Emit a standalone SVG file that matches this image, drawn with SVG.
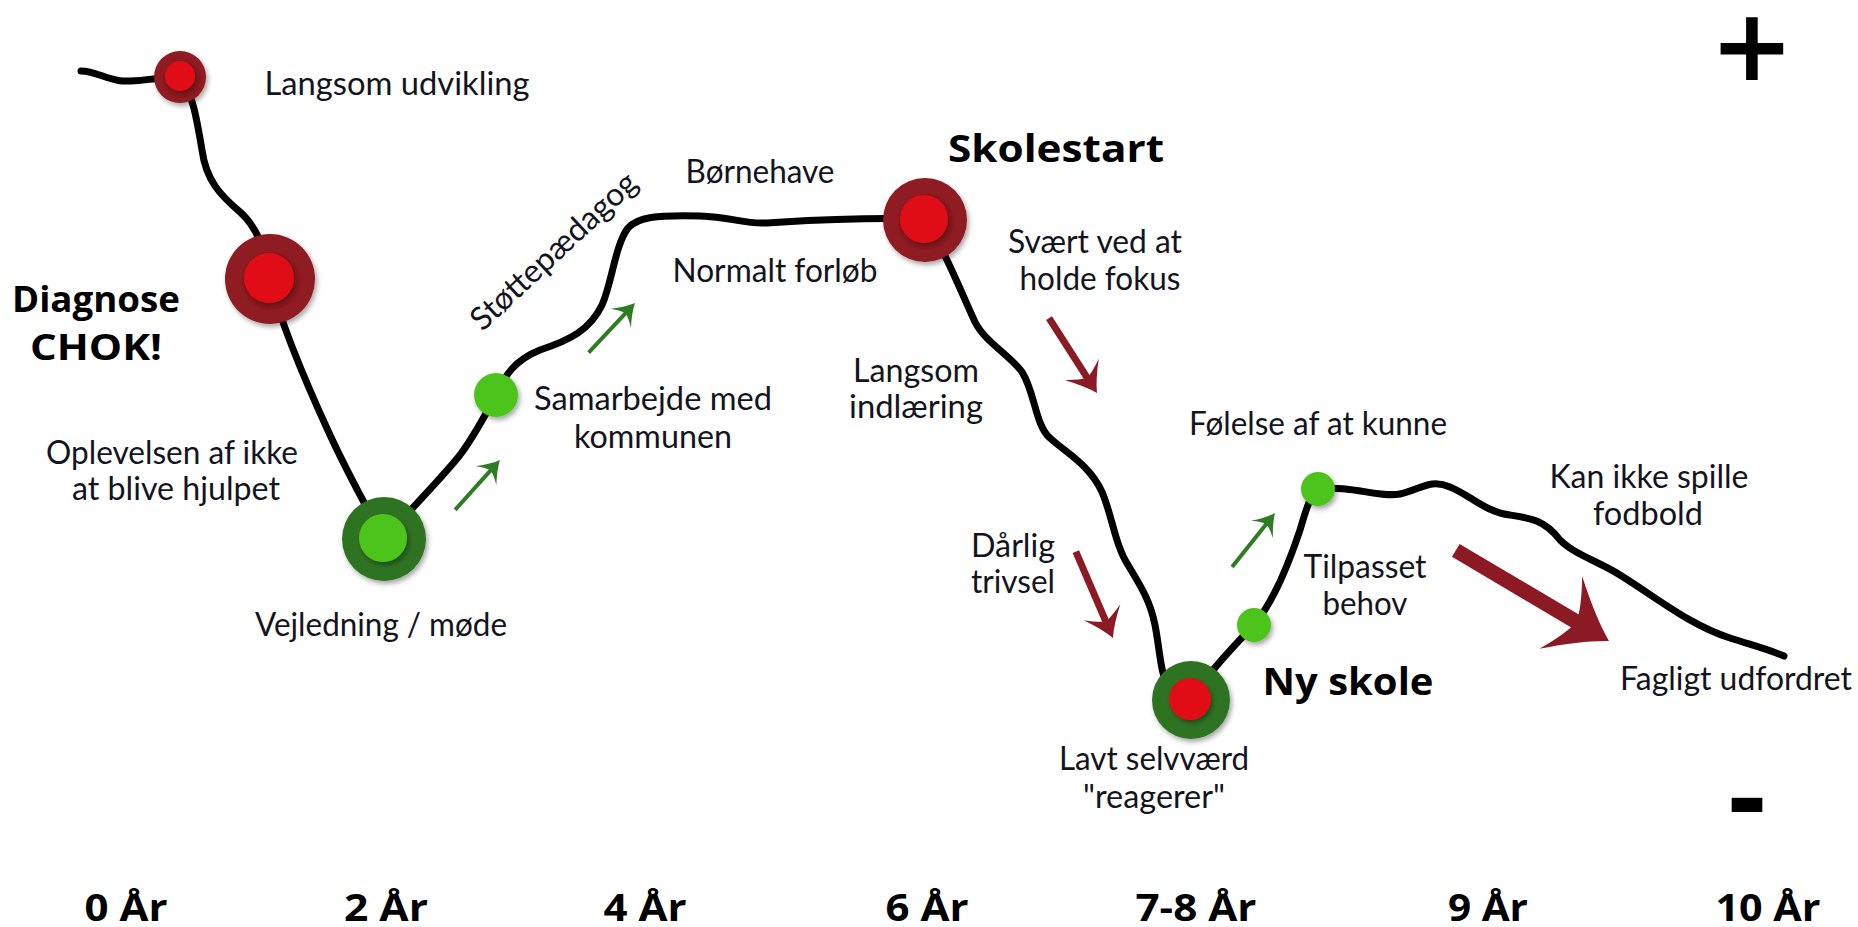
<svg xmlns="http://www.w3.org/2000/svg" width="1858" height="927" viewBox="0 0 1858 927">
<defs>
<style>
.t{font-family:Lato,"Open Sans","Liberation Sans",sans-serif;font-size:32px;fill:#141420;text-anchor:middle}
.b{font-family:"Open Sans",Lato,"Liberation Sans",sans-serif;font-weight:bold;fill:#000;text-anchor:middle}
.ax{font-family:"Open Sans","Liberation Sans",sans-serif;font-weight:bold;font-size:38px;fill:#000;text-anchor:middle}
.pm{font-family:"DejaVu Sans",sans-serif;font-weight:bold;font-size:100px;fill:#000;text-anchor:middle}
.curve{fill:none;stroke:#000;stroke-width:7;stroke-linecap:round;stroke-linejoin:round}
.rr{fill:#8E1A20}.ri{fill:#E00B16}.gr{fill:#2F7323}.gi{fill:#4EC41F}
.ga line{stroke:#2E7D22;stroke-width:4}.ga path{fill:#2E7D22}
.ra line{stroke:#8B1A24;stroke-width:7}.ra path{fill:#8B1A24}
</style>
<filter id="sh" x="-40%" y="-40%" width="180%" height="180%">
<feDropShadow dx="2" dy="3" stdDeviation="2.5" flood-color="#000" flood-opacity="0.35"/>
</filter>
</defs>
<rect width="1858" height="927" fill="#fff"/>

<g id="connectors">
<path class="curve" d="M81,71 C95,71 108,80 122,81 C138,82 150,78 180,77 C192,90 197,120 202,150 C206,180 220,195 240,212 C255,225 265,245 270,280 C280,320 300,370 330,435 C350,478 365,505 384,539 C410,510 440,480 460,455 C475,435 488,410 496,395 C505,375 515,360 540,350 C570,340 590,330 602,305 C612,283 615,245 628,228 C638,217 655,215 700,216 C730,217 745,224 765,223 C800,221 850,217 925,219 C945,250 960,290 975,322 C985,342 1010,355 1022,372 C1035,392 1035,425 1050,438 C1065,452 1090,465 1102,492 C1112,515 1115,545 1128,565 C1140,585 1150,600 1155,625 C1160,650 1160,675 1170,690 L1191,700 C1200,685 1220,660 1254,625 C1275,600 1290,560 1300,530 C1306,510 1310,495 1318,489 C1350,485 1380,498 1400,494 C1420,490 1430,478 1450,487 C1470,495 1485,512 1510,515 C1530,518 1545,520 1560,540 C1575,555 1600,562 1620,575 C1660,600 1690,625 1730,638 C1755,646 1770,650 1784,656"/>
</g>

<g id="arrows">
<g class="ga" transform="translate(500,460) rotate(-48)"><line x1="-67" y1="0" x2="-12" y2="0"/><path d="M0,0 Q-9,-4 -21,-14 Q-15,-5 -14,0 Q-15,5 -21,14 Q-9,4 0,0 Z"/></g>
<g class="ga" transform="translate(635,303) rotate(-47)"><line x1="-68" y1="0" x2="-12" y2="0"/><path d="M0,0 Q-9,-4 -21,-14 Q-15,-5 -14,0 Q-15,5 -21,14 Q-9,4 0,0 Z"/></g>
<g class="ga" transform="translate(1275,513) rotate(-51.5)"><line x1="-69" y1="0" x2="-12" y2="0"/><path d="M0,0 Q-9,-4 -21,-14 Q-15,-5 -14,0 Q-15,5 -21,14 Q-9,4 0,0 Z"/></g>
<g class="ra" transform="translate(1097,393) rotate(57.4)"><line x1="-89" y1="0" x2="-16" y2="0"/><path d="M0,0 Q-12,-6 -28,-20 Q-20,-7 -18,0 Q-20,7 -28,20 Q-12,6 0,0 Z"/></g>
<g class="ra" transform="translate(1113,638) rotate(66.7)"><line x1="-94" y1="0" x2="-16" y2="0"/><path d="M0,0 Q-12,-6 -28,-20 Q-20,-7 -18,0 Q-20,7 -28,20 Q-12,6 0,0 Z"/></g>
<g class="ra" transform="translate(1609,641) rotate(30.6)"><line x1="-178" y1="0" x2="-36" y2="0" style="stroke-width:15"/><path d="M0,0 Q-22,-12 -56,-42 Q-40,-14 -38,0 Q-40,14 -56,42 Q-22,12 0,0 Z"/></g>
</g>

<g id="n1" filter="url(#sh)"><circle class="rr" cx="180" cy="77" r="26"/><circle class="ri" cx="180" cy="76" r="15" filter="url(#sh)"/></g>
<g id="n2" filter="url(#sh)"><circle class="rr" cx="270" cy="279" r="45"/><circle class="ri" cx="269" cy="278" r="25" filter="url(#sh)"/></g>
<g id="n3" filter="url(#sh)"><circle class="gr" cx="384" cy="539" r="42"/><circle class="gi" cx="383" cy="538" r="24" filter="url(#sh)"/></g>
<g id="n4" filter="url(#sh)"><circle class="gi" cx="496" cy="395" r="22"/></g>
<g id="n5" filter="url(#sh)"><circle class="rr" cx="925" cy="220" r="42"/><circle class="ri" cx="924" cy="219" r="24" filter="url(#sh)"/></g>
<g id="n6" filter="url(#sh)"><circle class="gr" cx="1191" cy="700" r="39"/><circle class="ri" cx="1190" cy="699" r="21" filter="url(#sh)"/></g>
<g id="n7" filter="url(#sh)"><circle class="gi" cx="1254" cy="625" r="17"/></g>
<g id="n8" filter="url(#sh)"><circle class="gi" cx="1318" cy="489" r="17"/></g>

<g id="labels">
<text class="t" x="397" y="95" textLength="265" lengthAdjust="spacingAndGlyphs">Langsom udvikling</text>
<text class="b" x="96" y="312" font-size="36" textLength="168" lengthAdjust="spacingAndGlyphs">Diagnose</text>
<text class="b" x="96" y="360" font-size="36" textLength="132" lengthAdjust="spacingAndGlyphs">CHOK!</text>
<text class="t" x="172" y="464" textLength="252" lengthAdjust="spacingAndGlyphs">Oplevelsen af ikke</text>
<text class="t" x="176" y="500" textLength="208" lengthAdjust="spacingAndGlyphs">at blive hjulpet</text>
<text class="t" x="381" y="636" textLength="252" lengthAdjust="spacingAndGlyphs">Vejledning / møde</text>
<text class="t" transform="translate(561,259) rotate(-43)" textLength="215" lengthAdjust="spacingAndGlyphs">Støttepædagog</text>
<text class="t" x="653" y="410" textLength="238" lengthAdjust="spacingAndGlyphs">Samarbejde med</text>
<text class="t" x="653" y="448" textLength="158" lengthAdjust="spacingAndGlyphs">kommunen</text>
<text class="t" x="760" y="183" textLength="149" lengthAdjust="spacingAndGlyphs">Børnehave</text>
<text class="t" x="775" y="282" textLength="205" lengthAdjust="spacingAndGlyphs">Normalt forløb</text>
<text class="b" x="1056" y="162" font-size="38" textLength="216" lengthAdjust="spacingAndGlyphs">Skolestart</text>
<text class="t" x="1095" y="253" textLength="174" lengthAdjust="spacingAndGlyphs">Svært ved at</text>
<text class="t" x="1100" y="290" textLength="161" lengthAdjust="spacingAndGlyphs">holde fokus</text>
<text class="t" x="916" y="382" textLength="126" lengthAdjust="spacingAndGlyphs">Langsom</text>
<text class="t" x="916" y="418" textLength="134" lengthAdjust="spacingAndGlyphs">indlæring</text>
<text class="t" x="1318" y="435" textLength="258" lengthAdjust="spacingAndGlyphs">Følelse af at kunne</text>
<text class="t" x="1649" y="488" textLength="199" lengthAdjust="spacingAndGlyphs">Kan ikke spille</text>
<text class="t" x="1648" y="525" textLength="110" lengthAdjust="spacingAndGlyphs">fodbold</text>
<text class="t" x="1365" y="578" textLength="123" lengthAdjust="spacingAndGlyphs">Tilpasset</text>
<text class="t" x="1365" y="615" textLength="85" lengthAdjust="spacingAndGlyphs">behov</text>
<text class="b" x="1348" y="695" font-size="38" textLength="171" lengthAdjust="spacingAndGlyphs">Ny skole</text>
<text class="t" x="1736" y="690" textLength="232" lengthAdjust="spacingAndGlyphs">Fagligt udfordret</text>
<text class="t" x="1013" y="557" textLength="84" lengthAdjust="spacingAndGlyphs">Dårlig</text>
<text class="t" x="1013" y="593" textLength="84" lengthAdjust="spacingAndGlyphs">trivsel</text>
<text class="t" x="1154" y="770" textLength="190" lengthAdjust="spacingAndGlyphs">Lavt selvværd</text>
<text class="t" x="1154" y="808" textLength="142" lengthAdjust="spacingAndGlyphs">"reagerer"</text>
<text class="pm" x="1752" y="80">+</text>
<text class="pm" x="1747" y="834">-</text>
</g>

<g id="axis">
<text class="ax" x="126" y="921" textLength="83" lengthAdjust="spacingAndGlyphs">0 År</text>
<text class="ax" x="386" y="921" textLength="84" lengthAdjust="spacingAndGlyphs">2 År</text>
<text class="ax" x="645" y="921" textLength="83" lengthAdjust="spacingAndGlyphs">4 År</text>
<text class="ax" x="927" y="921" textLength="83" lengthAdjust="spacingAndGlyphs">6 År</text>
<text class="ax" x="1196" y="921" textLength="121" lengthAdjust="spacingAndGlyphs">7-8 År</text>
<text class="ax" x="1488" y="921" textLength="80" lengthAdjust="spacingAndGlyphs">9 År</text>
<text class="ax" x="1768" y="921" textLength="105" lengthAdjust="spacingAndGlyphs">10 År</text>
</g>
</svg>
